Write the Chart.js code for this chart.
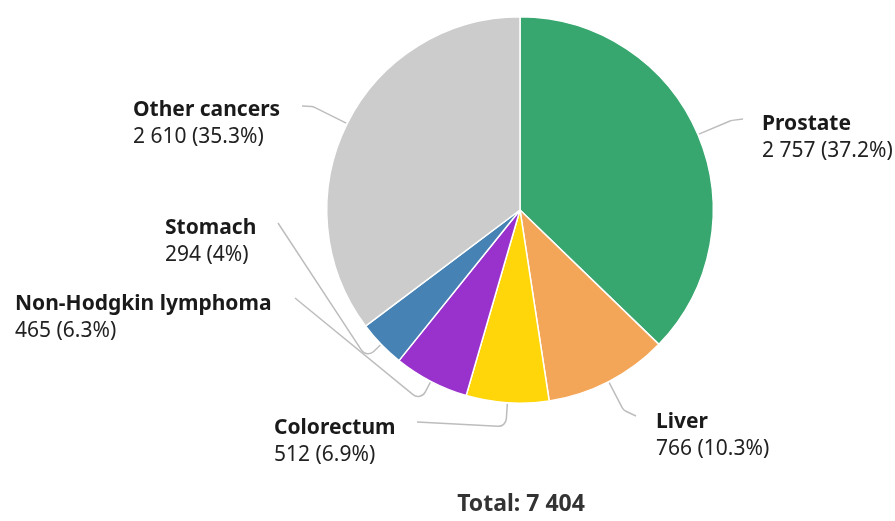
<!DOCTYPE html>
<html>
<head>
<meta charset="utf-8">
<script src="https://cdn.jsdelivr.net/npm/chart.js@4.4.0/dist/chart.umd.min.js"></script>
<style>
  html, body { margin: 0; padding: 0; background: #fff; }
  #wrap { width: 895px; height: 521px; }
</style>
</head>
<body>
<div id="wrap"><canvas id="chart" width="895" height="521"></canvas></div>
<script>
// data
const categories = ['Prostate', 'Liver', 'Colorectum', 'Non-Hodgkin lymphoma', 'Stomach', 'Other cancers'];
const cases = [2757, 766, 512, 465, 294, 2610];
const sliceColors = ['#37a76f', '#f4a658', '#ffd60a', '#9932cc', '#4682b4', '#cccccc'];

// label layout: radial extension of the leader line, end of line, text position
const labelLayout = [
  { ext: 36, endX: 743, endY: 119, textX: 762, textY: 124 },
  { ext: 32, endX: 636, endY: 416, textX: 656, textY: 422 },
  { ext: 24, endX: 417, endY: 422, textX: 274, textY: 428 },
  { ext: 22, endX: 295, endY: 298, textX: 15, textY: 304 },
  { ext: 20, endX: 278, endY: 223, textX: 165, textY: 228 },
  { ext: 38, endX: 302, endY: 106, textX: 133, textY: 110 },
];

const total = cases.reduce((a, b) => a + b, 0);
const fmt = (n) => String(n).replace(/\B(?=(\d{3})+(?!\d))/g, ' ');
const pct = (n) => parseFloat((n / total * 100).toFixed(1)) + '%';

const FONT = "'Noto Sans', sans-serif";

const leaderLabels = {
  id: 'leaderLabels',
  afterDatasetsDraw(chart) {
    const ctx = chart.ctx;
    const arcs = chart.getDatasetMeta(0).data;
    ctx.save();
    arcs.forEach((arc, i) => {
      const { x, y, startAngle, endAngle, outerRadius } = arc.getProps(['x', 'y', 'startAngle', 'endAngle', 'outerRadius'], true);
      const mid = (startAngle + endAngle) / 2;
      const lay = labelLayout[i];
      const r0 = outerRadius + 1;
      const r1 = outerRadius + lay.ext;
      const sx = x + Math.cos(mid) * r0, sy = y + Math.sin(mid) * r0;
      const ex = x + Math.cos(mid) * r1, ey = y + Math.sin(mid) * r1;

      ctx.beginPath();
      ctx.strokeStyle = '#bdbdbd';
      ctx.lineWidth = 1.5;
      ctx.moveTo(sx, sy);
      ctx.arcTo(ex, ey, lay.endX, lay.endY, 8);
      ctx.lineTo(lay.endX, lay.endY);
      ctx.stroke();

      ctx.textAlign = 'left';
      ctx.textBaseline = 'middle';
      ctx.fillStyle = '#1a1a1a';
      ctx.font = 'bold 21px ' + FONT;
      ctx.fillText(categories[i], lay.textX, lay.textY);
      ctx.fillStyle = '#222';
      ctx.font = '21px ' + FONT;
      ctx.fillText(fmt(cases[i]) + ' (' + pct(cases[i]) + ')', lay.textX, lay.textY + 27);
    });

    ctx.textAlign = 'center';
    ctx.textBaseline = 'middle';
    ctx.fillStyle = '#333';
    ctx.font = 'bold 23px ' + FONT;
    ctx.fillText('Total: ' + fmt(total), 521, 504);
    ctx.restore();
  }
};

new Chart(document.getElementById('chart'), {
  type: 'pie',
  data: {
    labels: categories,
    datasets: [{
      data: cases,
      backgroundColor: sliceColors,
      borderColor: '#ffffff',
      borderWidth: 1.5,
    }]
  },
  options: {
    responsive: false,
    animation: false,
    layout: { padding: { left: 326, right: 181, top: 16, bottom: 117 } },
    plugins: {
      legend: { display: false },
      tooltip: { enabled: false },
    }
  },
  plugins: [leaderLabels]
});
</script>
</body>
</html>
